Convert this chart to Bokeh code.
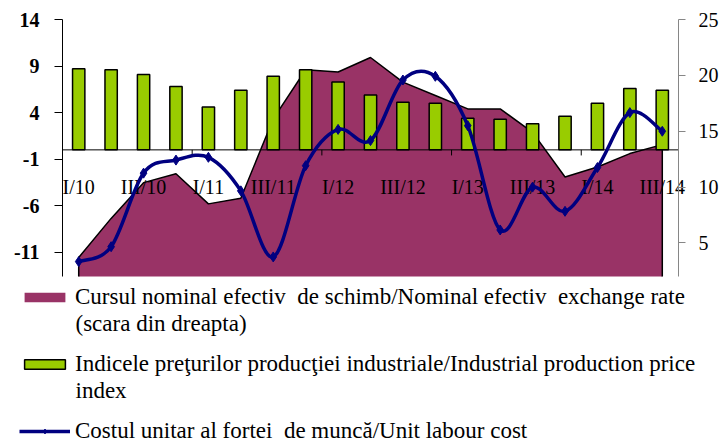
from bokeh.plotting import figure
from bokeh.models import Range1d, LinearAxis, FixedTicker, Legend, LegendItem, Label
from bokeh.core.properties import value
from bokeh.embed import file_html
from bokeh.resources import INLINE

quarters = ["I/10", "II/10", "III/10", "IV/10", "I/11", "II/11", "III/11", "IV/11",
            "I/12", "II/12", "III/12", "IV/12", "I/13", "II/13", "III/13", "IV/13",
            "I/14", "II/14", "III/14"]
# Nominal effective exchange rate (right scale)
neer = [3.7, 7.2, 10.4, 11.2, 8.5, 9.0, 16.1, 20.5, 20.3, 21.6, 19.4, 18.2,
        17.0, 17.0, 14.9, 10.9, 11.8, 13.0, 13.8]
# Industrial production price index (left scale)
ppi = [8.7, 8.6, 8.1, 6.8, 4.6, 6.4, 7.9, 8.6, 7.3, 5.9, 5.1, 5.0,
       3.4, 3.3, 2.8, 3.6, 5.0, 6.6, 6.4]
# Unit labour cost (left scale)
ulc = [-12.0, -10.4, -2.5, -1.1, -0.8, -4.4, -11.5, -1.7, 2.2, 1.0, 7.5, 7.9,
       2.6, -8.6, -4.0, -6.6, -1.9, 4.0, 2.0]
left_ticks = [-11, -6, -1, 4, 9, 14]
right_ticks = [5, 10, 15, 20, 25]
labels_shown = ["I/10", "III/10", "I/11", "III/11", "I/12", "III/12", "I/13", "III/13", "I/14", "III/14"]
legend_lines = [
    ["Cursul nominal efectiv  de schimb/Nominal efectiv  exchange rate", "(scara din dreapta)"],
    ["Indicele preţurilor producţiei industriale/Industrial production price", "index"],
    ["Costul unitar al fortei  de muncă/Unit labour cost"],
]

LEFT_MIN, LEFT_MAX = -13.6, 14
RIGHT_MIN, RIGHT_MAX = 2, 25
SERIF = "Liberation Serif"

# page layout in pixels: plot area box inside the canvas
W, H = 722, 445
PL, PR, PT, PB = 62, 678, 19, 276
# legend layout in pixels
LEG_X, LEG_TOP, LINE_H, PITCH = 19, 284, 26, 67
GLYPH_W, GLYPH_H, STANDOFF = 51, 12, 5
LEG_FONT = "23px"

n = len(quarters)
xs = list(range(n))

# the frame covers the whole canvas (so the legend below is not clipped);
# ranges are widened so the plot area box keeps the data extents
xpx = (PR - PL) / n
x_start = -0.5 - PL / xpx
x_end = n - 0.5 + (W - PR) / xpx
lpx = (PB - PT) / (LEFT_MAX - LEFT_MIN)
rpx = (PB - PT) / (RIGHT_MAX - RIGHT_MIN)

p = figure(width=W, height=H, output_backend="svg", toolbar_location=None,
           x_range=Range1d(x_start, x_end),
           y_range=Range1d(LEFT_MIN - (H - PB) / lpx, LEFT_MAX + PT / lpx),
           x_axis_location=None, min_border_left=0, min_border_right=0,
           min_border_top=0, min_border_bottom=0)
p.extra_y_ranges = {"right": Range1d(RIGHT_MIN - (H - PB) / rpx, RIGHT_MAX + PT / rpx)}
p.xgrid.visible = False
p.ygrid.visible = False
p.outline_line_color = None
p.background_fill_color = "white"
p.border_fill_color = "white"

# left axis
la = p.yaxis[0]
la.fixed_location = -0.5
la.ticker = FixedTicker(ticks=left_ticks)
la.bounds = (LEFT_MIN, LEFT_MAX)
la.major_label_overrides = {t: str(t) for t in left_ticks}
la.axis_line_color = "black"
la.major_tick_line_color = "black"
la.major_tick_out = 8
la.major_tick_in = 0
la.minor_tick_line_color = None
la.major_label_text_font = SERIF
la.major_label_text_font_size = "20px"
la.major_label_text_font_style = "bold"
la.major_label_text_color = "black"
la.major_label_standoff = 15

# right axis
ra = LinearAxis(y_range_name="right", ticker=FixedTicker(ticks=right_ticks),
                bounds=(RIGHT_MIN, RIGHT_MAX), fixed_location=n - 0.5)
ra.axis_line_color = "#868686"
ra.major_tick_line_color = "#868686"
ra.major_tick_out = 7
ra.major_tick_in = 0
ra.minor_tick_line_color = None
ra.major_label_text_font = SERIF
ra.major_label_text_font_size = "20px"
ra.major_label_text_color = "black"
ra.major_label_standoff = 13
p.add_layout(ra, "right")

# area (right scale): fill down to the axis bottom, outlined on top and sides
area = p.varea(x=xs, y1=[RIGHT_MIN] * n, y2=neer, y_range_name="right", fill_color="#993366")
p.line([xs[0]] + xs + [xs[-1]], [RIGHT_MIN] + neer + [RIGHT_MIN], y_range_name="right",
       line_color="black", line_width=1.5)

# bars (left scale)
bars = p.vbar(x=xs, top=ppi, bottom=0, width=0.38, fill_color="#99CC00",
              line_color="black", line_width=1.5)

# category axis at zero
x0, x1 = -0.5, n - 0.5
p.segment(x0=[x0], y0=[0], x1=[x1], y1=[0], line_color="black", line_width=1)
tick_pos = [i - 0.5 for i in range(4, n, 4)]
p.segment(x0=tick_pos, y0=[0] * len(tick_pos), x1=tick_pos, y1=[-0.6] * len(tick_pos),
          line_color="black", line_width=1)
lab_x = [quarters.index(q) for q in labels_shown]
p.text(x=lab_x, y=[-4.0] * len(lab_x), text=labels_shown, text_font=value(SERIF),
       text_font_size="20px", text_align="center", text_baseline="middle", text_color="black")

# smoothed line (Catmull-Rom -> cubic Bezier, as in spreadsheet smoothing)
bx0, by0, bx1, by1, cx0, cy0, cx1, cy1 = [], [], [], [], [], [], [], []
for i in range(n - 1):
    xm, ym = xs[max(i - 1, 0)], ulc[max(i - 1, 0)]
    xa, ya = xs[i], ulc[i]
    xb, yb = xs[i + 1], ulc[i + 1]
    xp, yp = xs[min(i + 2, n - 1)], ulc[min(i + 2, n - 1)]
    bx0.append(xa); by0.append(ya); bx1.append(xb); by1.append(yb)
    cx0.append(xa + (xb - xm) / 6); cy0.append(ya + (yb - ym) / 6)
    cx1.append(xb - (xp - xa) / 6); cy1.append(yb - (yp - ya) / 6)
curve = p.bezier(x0=bx0, y0=by0, x1=bx1, y1=by1, cx0=cx0, cy0=cy0, cx1=cx1, cy1=cy1,
                 line_color="#000080", line_width=3.5)
pts = p.scatter(xs, ulc, marker="diamond", size=10, fill_color="#000080", line_color="#000080")

# legend: first line of each entry next to its swatch, continuation lines below
leg_renderers = [[area], [bars], [curve, pts]]
legend = Legend(items=[LegendItem(label=lines[0], renderers=r)
                       for lines, r in zip(legend_lines, leg_renderers)],
                orientation="vertical")
k = len(legend_lines)
leg_h = LINE_H * k + (PITCH - LINE_H) * (k - 1)
legend.location = (LEG_X, H - LEG_TOP - leg_h)
legend.glyph_width = GLYPH_W
legend.glyph_height = GLYPH_H
legend.label_height = LINE_H
legend.label_standoff = STANDOFF
legend.spacing = PITCH - LINE_H
legend.padding = 0
legend.margin = 0
legend.border_line_color = None
legend.background_fill_alpha = 0
legend.label_text_font = SERIF
legend.label_text_font_size = LEG_FONT
legend.label_text_line_height = LINE_H / 23
legend.label_text_color = "black"
p.add_layout(legend, "center")

for i, lines in enumerate(legend_lines):
    for j, txt in enumerate(lines[1:], start=1):
        cy = LEG_TOP + i * PITCH + LINE_H / 2 + j * LINE_H
        p.add_layout(Label(x=LEG_X + GLYPH_W + STANDOFF, y=H - cy, x_units="screen", y_units="screen",
                           text=txt, text_font=SERIF, text_font_size=LEG_FONT,
                           text_baseline="middle", text_align="left", text_color="black"))

open("out.html", "w").write(file_html(p, INLINE))
